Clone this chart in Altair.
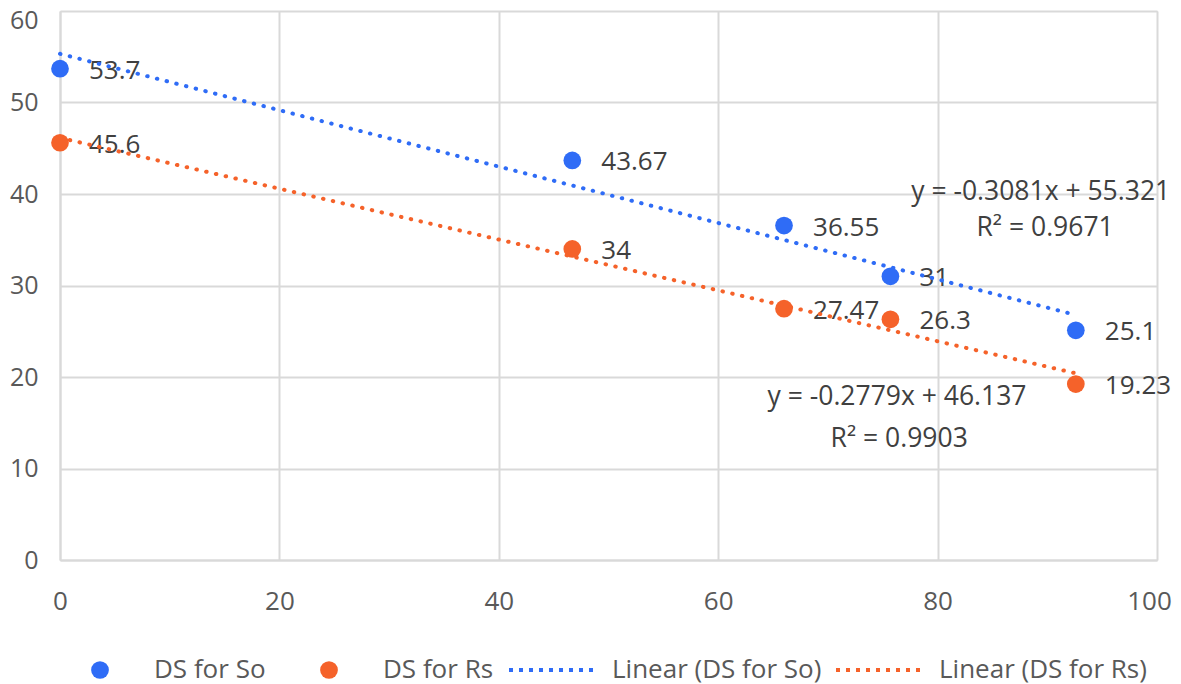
import altair as alt
import pandas as pd

# ---- data ----
x_vals = [0, 46.7, 66.0, 75.7, 92.6]
so_vals = [53.7, 43.67, 36.55, 31, 25.1]
rs_vals = [45.6, 34, 27.47, 26.3, 19.23]
series_names = ["DS for So", "DS for Rs"]
trend_names = ["Linear (DS for So)", "Linear (DS for Rs)"]
colors = ["#2F6CF6", "#F5622A"]

eq_text = ["y = -0.3081x + 55.321", "R² = 0.9671", "y = -0.2779x + 46.137", "R² = 0.9903"]
eq_x = [89.4, 89.8, 76.3, 76.5]
eq_y = [40.25, 36.3, 17.8, 13.2]

x_ticks = [0, 20, 40, 60, 80, 100]
y_ticks = [0, 10, 20, 30, 40, 50, 60]

rows = []
for name, vals in zip(series_names, [so_vals, rs_vals]):
    for xv, yv in zip(x_vals, vals):
        rows.append({"series": name, "x": xv, "y": yv})
df = pd.DataFrame(rows)
eq_df = pd.DataFrame({"text": eq_text, "x": eq_x, "y": eq_y})

FONT = "Open Sans"
GRID = "#d9d9d9"

x_enc = alt.X("x:Q", scale=alt.Scale(domain=[0, 100], nice=False),
              axis=alt.Axis(values=x_ticks, title=None, grid=True, ticks=False,
                            labelPadding=28, labelFontSize=26, labelFont=FONT,
                            labelColor="#595959", gridColor=GRID, gridWidth=2,
                            domainColor=GRID, domainWidth=2, labelFlush=False,
                            labelOffset={"condition": {"test": "datum.value == 100", "value": -8},
                                         "value": 0}))
y_enc = alt.Y("y:Q", scale=alt.Scale(domain=[0, 60], nice=False),
              axis=alt.Axis(values=y_ticks, title=None, grid=True, ticks=False,
                            labelPadding=22, labelFontSize=25, labelFont=FONT,
                            labelColor="#595959", gridColor=GRID, gridWidth=2,
                            domainColor=GRID, domainWidth=2, labelFlush=False,
                            labelOffset={"condition": {"test": "datum.value == 60", "value": 9},
                                         "value": 0}))

base = alt.Chart(df)

labels = base.transform_calculate(lbl="toString(datum.y)").mark_text(
    align="left", baseline="middle", dx=29, dy=2, fontSize=26, font=FONT, color="#404040"
).encode(x=x_enc, y=y_enc, text="lbl:N")

points = base.mark_circle(size=314, opacity=1).encode(
    x=x_enc, y=y_enc,
    fill=alt.Fill("series:N",
                  scale=alt.Scale(domain=series_names, range=colors),
                  legend=alt.Legend(title=None, orient="none", legendX=27, legendY=646,
                                    direction="horizontal", columns=2, symbolType="circle",
                                    symbolSize=314, labelOffset=41, columnPadding=50,
                                    labelFontSize=26, labelFont=FONT, labelColor="#595959",
                                    labelLimit=400, padding=0, symbolOpacity=1)),
)

lines = base.transform_regression("x", "y", groupby=["series"]).transform_calculate(
    trend="'Linear (' + datum.series + ')'"
).mark_line(strokeDash=[0.5, 9.5], strokeCap="round", strokeWidth=4).encode(
    x=x_enc, y=y_enc,
    stroke=alt.Stroke("trend:N",
                      scale=alt.Scale(domain=trend_names, range=colors),
                      legend=alt.Legend(title=None, orient="none", legendX=447, legendY=614,
                                        direction="horizontal", columns=2, symbolType="stroke",
                                        symbolSize=7396, symbolStrokeWidth=4, symbolDash=[4, 6],
                                        labelOffset=15, columnPadding=6, labelLimit=400,
                                        labelFontSize=26, labelFont=FONT, labelColor="#595959",
                                        padding=0)),
)

eqs = alt.Chart(eq_df).mark_text(
    align="center", baseline="middle", fontSize=26.5, font=FONT, color="#404040"
).encode(x=alt.X("x:Q", scale=alt.Scale(domain=[0, 100], nice=False)),
         y=alt.Y("y:Q", scale=alt.Scale(domain=[0, 60], nice=False)),
         text="text:N")

chart = alt.layer(labels, eqs, points, lines).resolve_scale(
    fill="independent", stroke="independent"
).properties(
    width=1097, height=549,
    autosize=alt.AutoSizeParams(type="none"),
    padding={"left": 52, "top": 3, "right": 16, "bottom": 124},
).configure_view(stroke=None).configure(background="white")

chart.save("out.html", embed_options={"renderer": "svg", "actions": False})
